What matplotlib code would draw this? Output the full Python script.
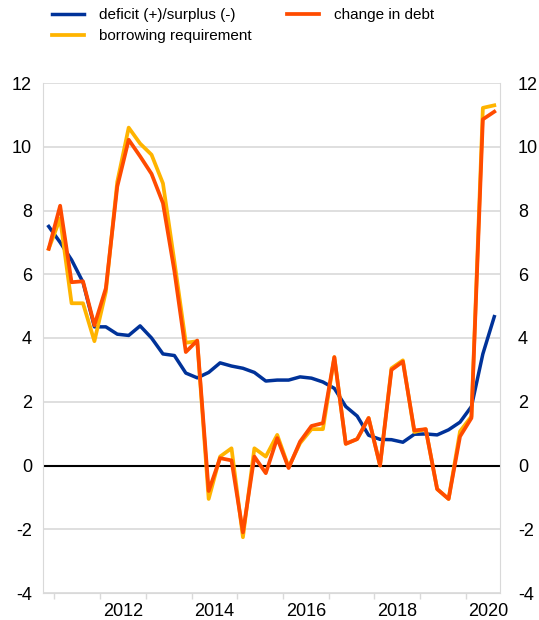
import numpy as np
import matplotlib
matplotlib.use("Agg")
import matplotlib.pyplot as plt

plt.rcParams['font.family'] = ['Liberation Sans', 'DejaVu Sans']
plt.rcParams['axes.unicode_minus'] = False

# quarterly, 2010Q4 .. 2020Q3
deficit = [7.5, 7.0, 6.45, 5.75, 4.35, 4.35, 4.12, 4.08, 4.38, 4.0,
           3.5, 3.45, 2.9, 2.75, 2.92, 3.22, 3.12, 3.05, 2.92, 2.65,
           2.68, 2.68, 2.78, 2.74, 2.62, 2.42, 1.85, 1.55, 0.95, 0.82,
           0.81, 0.73, 0.98, 0.99, 0.96, 1.12, 1.36, 1.85, 3.5, 4.67]
borrowing = [6.8, 7.75, 5.09, 5.09, 3.9, 5.45, 8.9, 10.6, 10.1, 9.75,
             8.85, 6.4, 3.85, 3.9, -1.05, 0.28, 0.54, -2.25, 0.54, 0.28,
             0.96, -0.05, 0.7, 1.14, 1.14, 3.4, 0.68, 0.83, 1.49, 0.0,
             3.05, 3.3, 1.05, 1.14, -0.74, -1.05, 1.07, 1.54, 11.22, 11.3]
debt_change = [6.8, 8.15, 5.75, 5.78, 4.4, 5.56, 8.75, 10.22, 9.7, 9.15,
               8.23, 6.1, 3.56, 3.92, -0.8, 0.23, 0.16, -2.1, 0.28, -0.24,
               0.86, -0.08, 0.75, 1.24, 1.33, 3.4, 0.68, 0.83, 1.49, 0.0,
               3.0, 3.26, 1.1, 1.14, -0.74, -1.05, 0.91, 1.49, 10.86, 11.1]
years = [2012, 2014, 2016, 2018, 2020]
first_year = 2011  # 2011Q1 is index 1

blue = '#003299'
yellow = '#FFB400'
red = '#FF4B00'

x = np.arange(len(deficit))

fig = plt.figure(figsize=(5.39, 6.2), dpi=100)
ax = fig.add_axes([43/539, 27/620, 457/539, 510/620])

l1, = ax.plot(x, deficit, color=blue, lw=2.5, label='deficit (+)/surplus (-)', zorder=3)
l2, = ax.plot(x, borrowing, color=yellow, lw=2.7, label='borrowing requirement', zorder=4)
l3, = ax.plot(x, debt_change, color=red, lw=2.7, label='change in debt', zorder=5)
ax.axhline(0, color='black', lw=1.5, zorder=2)

ax.set_xlim(-0.5, len(x) - 0.5)
ax.set_ylim(-4, 12)
ax.set_yticks(np.arange(-4, 13, 2))
ax.grid(axis='y', color='#d9d9d9', lw=1.2)
ax.set_axisbelow(True)

for s in ['left', 'right', 'bottom', 'top']:
    ax.spines[s].set_color('#d9d9d9')
ax.spines['top'].set_visible(False)

# year labels in the middle of each year, ticks at year boundaries
ax.set_xticks([1 + 4 * (y - first_year) + 1.5 for y in years])
ax.set_xticklabels([str(y) for y in years])
ax.set_xticks(np.arange(0.5, len(x), 4), minor=True)
ax.tick_params(axis='x', which='major', length=0, pad=7, labelsize=13)
ax.tick_params(axis='x', which='minor', length=4, color='#d9d9d9', width=1)
ax.tick_params(axis='y', length=0, labelsize=13, pad=8)

ax2 = ax.twinx()
ax2.set_ylim(ax.get_ylim())
ax2.set_yticks(np.arange(-4, 13, 2))
ax2.tick_params(axis='y', length=0, labelsize=13, pad=13)
for s in ax2.spines.values():
    s.set_visible(False)

fig.legend(handles=[l1, l2, l3], ncol=2, loc='upper left',
           bbox_to_anchor=(52/539, 1 - 8/620), frameon=False, fontsize=11,
           handlelength=2.1, handletextpad=1.0, columnspacing=2.3,
           labelspacing=0.45, borderpad=0, borderaxespad=0)

fig.savefig('out.png', dpi=100)
